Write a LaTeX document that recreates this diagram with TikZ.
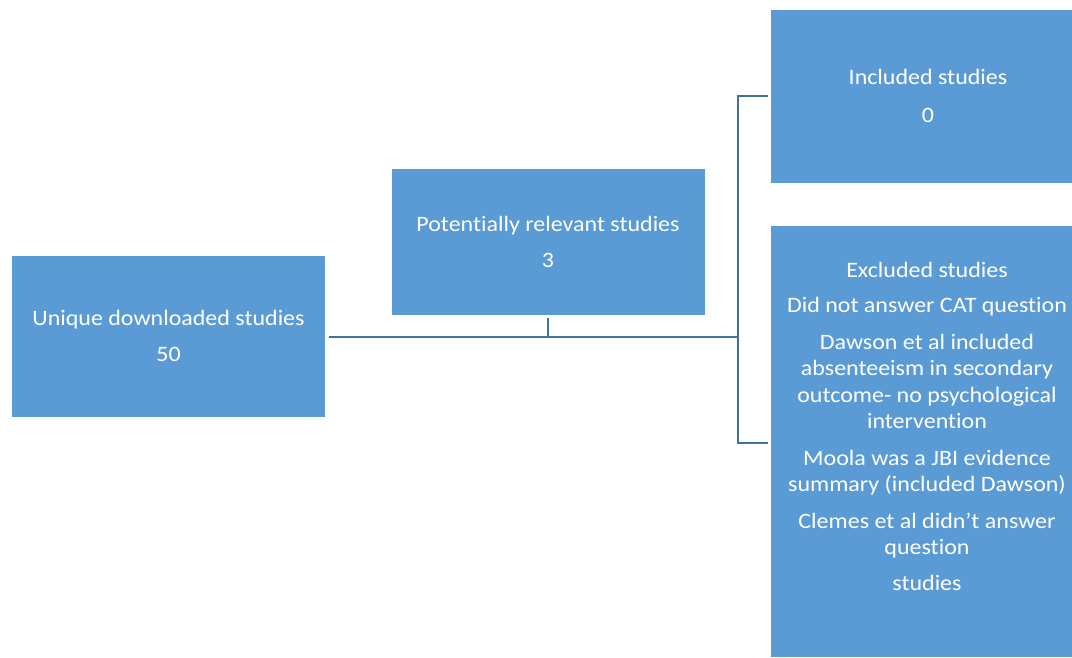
\documentclass[tikz,border=0pt]{standalone}
\usepackage{fontspec}
\setmainfont{Carlito}[FakeStretch=1.09, Ligatures=NoCommon]
\definecolor{boxblue}{HTML}{5B9BD5}
\definecolor{lineblue}{HTML}{41719C}
\begin{document}
\begin{tikzpicture}[x=1pt,y=-1pt,
  box/.style={fill=boxblue, draw=none, inner sep=0pt},
  txt/.style={text=white, align=center, font=\fontsize{22}{26.3}\selectfont, inner sep=0pt},
  conn/.style={draw=lineblue, line width=2.4pt}]
\useasboundingbox (0,0) rectangle (1072,657);
% boxes
\path[box] (12,256) rectangle (325,417);
\path[box] (392,169) rectangle (705,315);
\path[box] (771,10) rectangle (1072,183);
\path[box] (771,226) rectangle (1072,657);
\node[txt] (unique) at (168.5,336) {Unique downloaded studies\\[10pt]50};
\node[txt] (potential) at (548,242) {Potentially relevant studies\\[10pt]3};
\node[txt] (included) at (928,96) {Included studies\\[11pt]0};
\node[txt, anchor=north] (excluded) at (927,262) {Excluded studies\\[9pt]
Did not answer CAT question\\[10.5pt]
Dawson et al included\\ absenteeism in secondary\\ outcome- no psychological\\ intervention\\[10.5pt]
Moola was a JBI evidence\\ summary (included Dawson)\\[10.5pt]
Clemes et al didn’t answer\\ question\\[10pt]
studies};
% connectors
\coordinate (u) at (329,337);
\coordinate (j) at (738,337);
\coordinate (p) at (548,318);
\coordinate (pj) at (548,337);
\coordinate (it) at (768,96);
\coordinate (et) at (768,443);
\draw[conn] (u) -- (j);
\draw[conn] (p) -- (pj);
\draw[conn] (it) -- (738,96) -- (738,443) -- (et);
\end{tikzpicture}
\end{document}
